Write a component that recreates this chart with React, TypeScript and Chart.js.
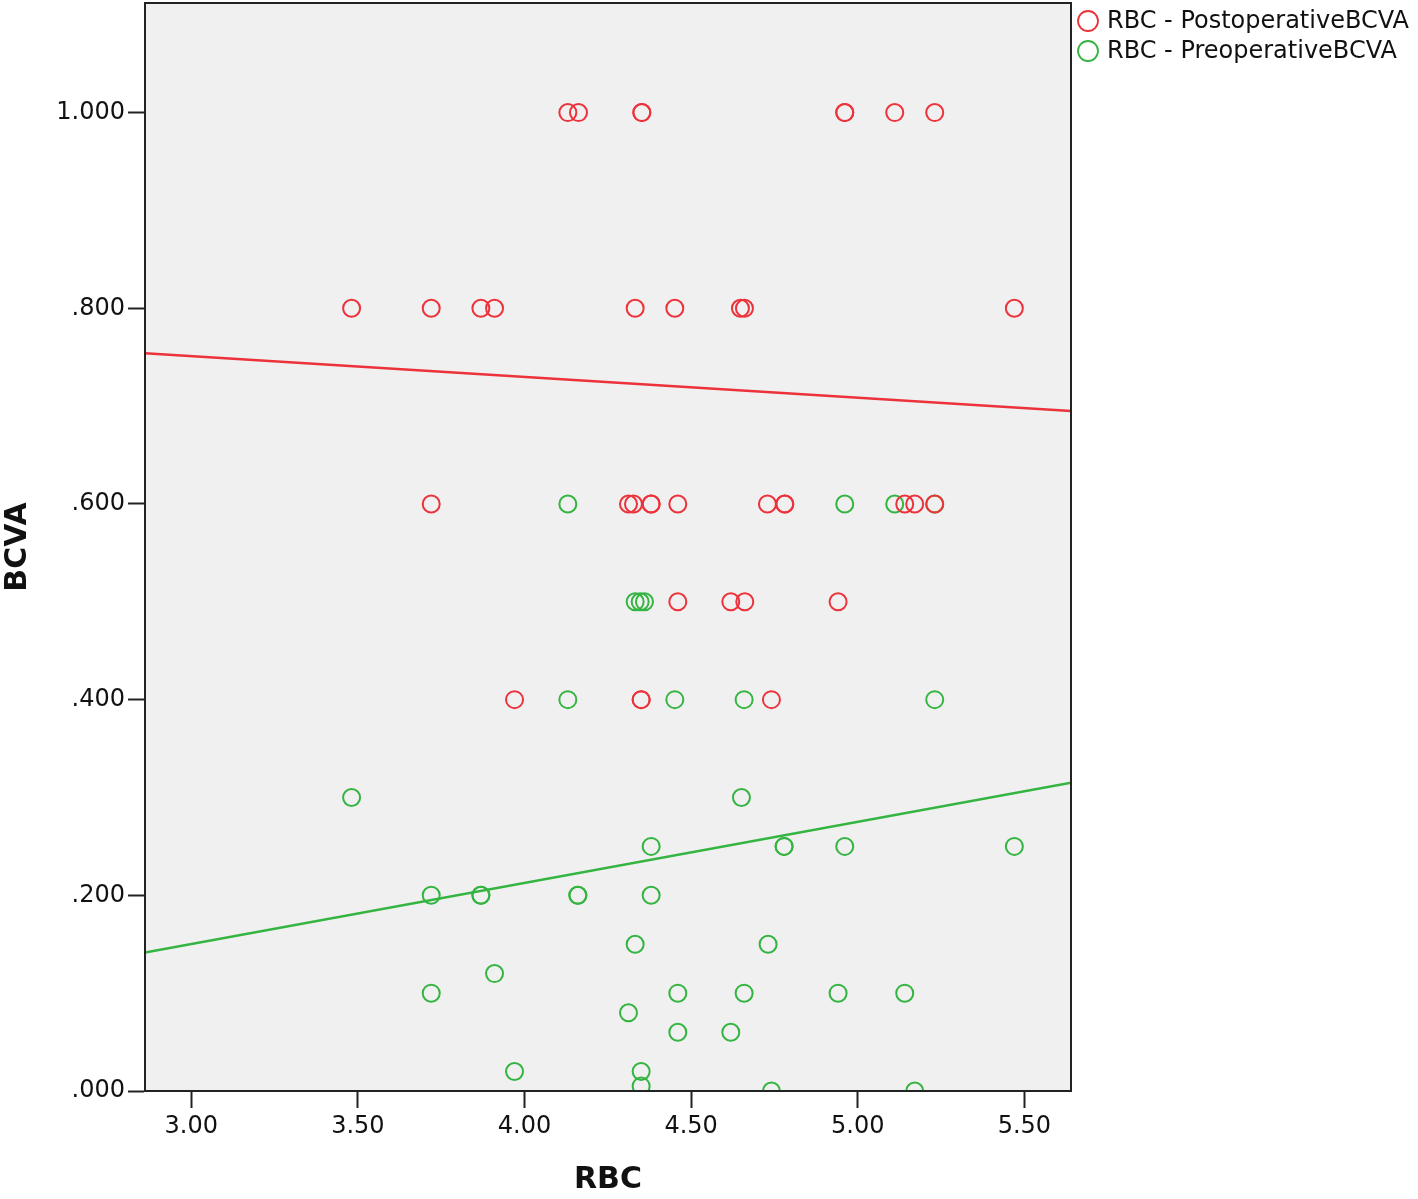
import React, { useEffect, useRef } from "react";
import { Chart, registerables } from "chart.js";

Chart.register(...registerables);

// Postoperative BCVA vs RBC (red)
const postX = [
  4.13, 4.162, 4.352, 4.352, 4.961, 4.961, 5.111, 5.231,
  3.481, 3.72, 3.869, 3.91, 4.332, 4.451, 4.648, 4.66, 5.47,
  3.72, 4.312, 4.327, 4.38, 4.38, 4.46, 4.729, 4.781, 4.781, 5.141, 5.171, 5.231,
  4.46, 4.619, 4.661, 4.941,
  3.97, 4.35, 4.35, 4.741,
];
const postY = [
  1.0, 1.0, 1.0, 1.0, 1.0, 1.0, 1.0, 1.0,
  0.8, 0.8, 0.8, 0.8, 0.8, 0.8, 0.8, 0.8, 0.8,
  0.6, 0.6, 0.6, 0.6, 0.6, 0.6, 0.6, 0.6, 0.6, 0.6, 0.6, 0.6,
  0.5, 0.5, 0.5, 0.5,
  0.4, 0.4, 0.4, 0.4,
];

// Preoperative BCVA vs RBC (green)
const preX = [
  4.13, 4.961, 5.111, 5.231,
  4.332, 4.347, 4.36,
  4.13, 4.451, 4.659, 5.231,
  3.481, 4.651,
  4.38, 4.779, 4.779, 4.961, 5.47,
  3.72, 3.869, 3.869, 4.16, 4.16, 4.38,
  4.332, 4.731,
  3.91,
  3.72, 4.46, 4.659, 4.941, 5.141,
  4.312,
  4.46, 4.619,
  3.97, 4.35,
  4.35,
  4.741, 5.171,
];
const preY = [
  0.6, 0.6, 0.6, 0.6,
  0.5, 0.5, 0.5,
  0.4, 0.4, 0.4, 0.4,
  0.3, 0.3,
  0.25, 0.25, 0.25, 0.25, 0.25,
  0.2, 0.2, 0.2, 0.2, 0.2, 0.2,
  0.15, 0.15,
  0.12,
  0.1, 0.1, 0.1, 0.1, 0.1,
  0.08,
  0.06, 0.06,
  0.02, 0.02,
  0.005,
  0.0, 0.0,
];

// Fit lines (end points)
const fitX = [2.861, 5.64];
const postFitY = [0.754, 0.695];
const preFitY = [0.1415, 0.315];

const xTicks = [3.0, 3.5, 4.0, 4.5, 5.0, 5.5];
const yTicks = [0.0, 0.2, 0.4, 0.6, 0.8, 1.0];
const legendLabels = ["RBC - PostoperativeBCVA", "RBC - PreoperativeBCVA"];
const xTitle = "RBC";
const yTitle = "BCVA";

const RED = "rgb(236, 50, 58)";
const GREEN = "rgb(52, 180, 64)";
const FONT = "'DejaVu Sans', sans-serif";

const toPts = (xs: number[], ys: number[]) => xs.map((x, i) => ({ x, y: ys[i] }));

export default function App() {
  const ref = useRef<HTMLCanvasElement | null>(null);

  useEffect(() => {
    if (!ref.current) return;
    const framePlugin = {
      id: "frame",
      beforeDatasetsDraw(chart: any) {
        const { ctx, chartArea: a } = chart;
        ctx.save();
        ctx.fillStyle = "#f0f0f0";
        ctx.fillRect(a.left, a.top, a.right - a.left, a.bottom - a.top);
        ctx.restore();
      },
      afterDraw(chart: any) {
        const { ctx, chartArea: a } = chart;
        ctx.save();
        ctx.strokeStyle = "#222";
        ctx.lineWidth = 2;
        ctx.strokeRect(a.left, a.top, a.right - a.left, a.bottom - a.top);
        // legend
        const colors = [RED, GREEN];
        ctx.font = `24px ${FONT}`;
        ctx.textBaseline = "middle";
        ctx.textAlign = "left";
        legendLabels.forEach((t, i) => {
          const cy = 21 + i * 30;
          ctx.beginPath();
          ctx.arc(1088, cy, 10, 0, Math.PI * 2);
          ctx.strokeStyle = colors[i];
          ctx.lineWidth = 1.8;
          ctx.stroke();
          ctx.fillStyle = "#111";
          ctx.fillText(t, 1107, cy + 1);
        });
        ctx.restore();
      },
    };

    const chart = new Chart(ref.current, {
      type: "scatter",
      data: {
        datasets: [
          {
            label: legendLabels[0],
            data: toPts(postX, postY),
            borderColor: RED,
            backgroundColor: "rgba(0,0,0,0)",
            pointRadius: 8.5,
            pointBorderWidth: 2,
          },
          {
            label: legendLabels[1],
            data: toPts(preX, preY),
            borderColor: GREEN,
            backgroundColor: "rgba(0,0,0,0)",
            pointRadius: 8.5,
            pointBorderWidth: 2,
          },
          {
            type: "line",
            label: "postFit",
            data: toPts(fitX, postFitY),
            borderColor: RED,
            borderWidth: 2.4,
            pointRadius: 0,
            showLine: true,
            fill: false,
          },
          {
            type: "line",
            label: "preFit",
            data: toPts(fitX, preFitY),
            borderColor: GREEN,
            borderWidth: 2.4,
            pointRadius: 0,
            showLine: true,
            fill: false,
          },
        ],
      } as any,
      options: {
        animation: false,
        responsive: false,
        devicePixelRatio: 1,
        layout: { autoPadding: false, padding: { top: 3, right: 347, left: 0, bottom: 0 } },
        plugins: { legend: { display: false }, tooltip: { enabled: false } },
        scales: {
          x: {
            type: "linear",
            min: 2.861,
            max: 5.64,
            afterBuildTicks: (s: any) => {
              s.ticks = xTicks.map((v) => ({ value: v }));
            },
            afterFit: (s: any) => {
              s.height = 108;
              s.paddingLeft = 0;
              s.paddingRight = 0;
            },
            ticks: {
              color: "#111",
              font: { family: FONT, size: 24 },
              padding: 4,
              maxRotation: 0,
              autoSkip: false,
              callback: (v: any) => Number(v).toFixed(2),
            },
            grid: {
              drawOnChartArea: false,
              drawTicks: true,
              tickLength: 17,
              tickColor: "#222",
              tickWidth: 2,
              color: "#222",
            },
            border: { display: true, color: "#222", width: 2 },
            title: {
              display: true,
              text: xTitle,
              color: "#111",
              font: { family: FONT, size: 30, weight: "bold" },
              padding: { top: 1, bottom: 1 },
            },
          },
          y: {
            type: "linear",
            min: 0,
            max: 1.112,
            afterBuildTicks: (s: any) => {
              s.ticks = yTicks.map((v) => ({ value: v }));
            },
            afterFit: (s: any) => {
              s.width = 145;
              s.paddingTop = 0;
              s.paddingBottom = 0;
            },
            ticks: {
              color: "#111",
              font: { family: FONT, size: 24 },
              padding: 3,
              autoSkip: false,
              callback: (v: any) => {
                const n = Number(v);
                return n >= 1 ? n.toFixed(3) : n.toFixed(3).replace(/^0/, "");
              },
            },
            grid: {
              drawOnChartArea: false,
              drawTicks: true,
              tickLength: 17,
              tickColor: "#222",
              tickWidth: 2,
              color: "#222",
            },
            border: { display: true, color: "#222", width: 2 },
            title: {
              display: true,
              text: yTitle,
              color: "#111",
              font: { family: FONT, size: 30, weight: "bold" },
              padding: { top: 0, bottom: 0 },
            },
          },
        },
      } as any,
      plugins: [framePlugin],
    });
    return () => chart.destroy();
  }, []);

  return (
    <div style={{ position: "absolute", left: 0, top: 0, width: 1418, height: 1199, background: "#fff" }}>
      <canvas ref={ref} width={1418} height={1199} style={{ display: "block" }} />
    </div>
  );
}
